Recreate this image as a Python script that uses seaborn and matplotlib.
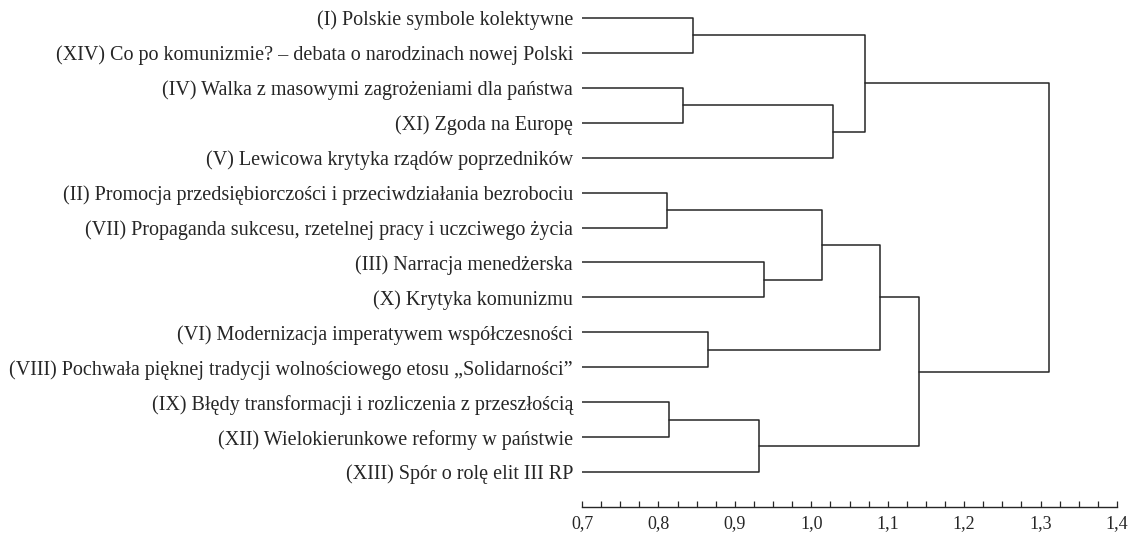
import numpy as np
import pandas as pd
import matplotlib
matplotlib.use('Agg')
import matplotlib.pyplot as plt
import seaborn as sns
from matplotlib.ticker import MultipleLocator, FuncFormatter

# leaves, top to bottom
labels = [
    '(I) Polskie symbole kolektywne',
    '(XIV) Co po komunizmie? – debata o narodzinach nowej Polski',
    '(IV) Walka z masowymi zagrożeniami dla państwa',
    '(XI) Zgoda na Europę',
    '(V) Lewicowa krytyka rządów poprzedników',
    '(II) Promocja przedsiębiorczości i przeciwdziałania bezrobociu',
    '(VII) Propaganda sukcesu, rzetelnej pracy i uczciwego życia',
    '(III) Narracja menedżerska',
    '(X) Krytyka komunizmu',
    '(VI) Modernizacja imperatywem współczesności',
    '(VIII) Pochwała pięknej tradycji wolnościowego etosu „Solidarności”',
    '(IX) Błędy transformacji i rozliczenia z przeszłością',
    '(XII) Wielokierunkowe reformy w państwie',
    '(XIII) Spór o rolę elit III RP',
]

# merges, scipy style: ids 0-13 are leaves, merge k gets id 14 + k
merge_left = [0, 2, 15, 14, 5, 7, 18, 9, 20, 11, 23, 22, 17]
merge_right = [1, 3, 4, 16, 6, 8, 19, 10, 21, 12, 13, 24, 25]
merge_height = [0.845, 0.832, 1.029, 1.070, 0.811, 0.938, 1.014,
                0.865, 1.090, 0.814, 0.931, 1.141, 1.311]

leaf_base = 0.7
ink = '#262626'

# build link segments
n = len(labels)
pos_y = {i: float(i) for i in range(n)}
pos_x = {i: leaf_base for i in range(n)}
rows = []
for k, (a, b, h) in enumerate(zip(merge_left, merge_right, merge_height)):
    pts = [(pos_x[a], pos_y[a]), (h, pos_y[a]), (h, pos_y[b]), (pos_x[b], pos_y[b])]
    for j, (x, y) in enumerate(pts):
        rows.append({'link': k, 'order': j, 'x': x, 'y': y})
    pos_y[n + k] = (pos_y[a] + pos_y[b]) / 2
    pos_x[n + k] = h
links = pd.DataFrame(rows)

sns.set_theme(style='white')
plt.rcParams['font.family'] = ['Liberation Serif', 'DejaVu Serif']

fig = plt.figure(figsize=(11.4, 5.36), dpi=100)
ax = fig.add_axes([582 / 1140, 29 / 536, 535 / 1140, 507 / 536])

sns.lineplot(data=links, x='x', y='y', units='link', estimator=None, sort=False,
             color=ink, linewidth=1.1, ax=ax, legend=False)

ax.set_xlim(0.7, 1.4)
ax.set_ylim(14.0, -0.515)
ax.set_xlabel('')
ax.set_ylabel('')

ax.xaxis.set_major_locator(MultipleLocator(0.1))
ax.xaxis.set_minor_locator(MultipleLocator(0.025))
ax.xaxis.set_major_formatter(FuncFormatter(lambda v, p: f'{v:.1f}'.replace('.', ',')))
ax.tick_params(axis='x', which='both', direction='in', length=4, width=0.9,
               color=ink, bottom=True, pad=6, labelsize=13, labelcolor=ink)

ax.set_yticks(range(n))
ax.set_yticklabels(labels)
ax.tick_params(axis='y', length=0, pad=6.5, labelsize=14.5, labelcolor=ink)

sns.despine(ax=ax, left=True)
ax.spines['bottom'].set_color(ink)
ax.spines['bottom'].set_linewidth(1.0)

fig.savefig('out.png', dpi=100)
